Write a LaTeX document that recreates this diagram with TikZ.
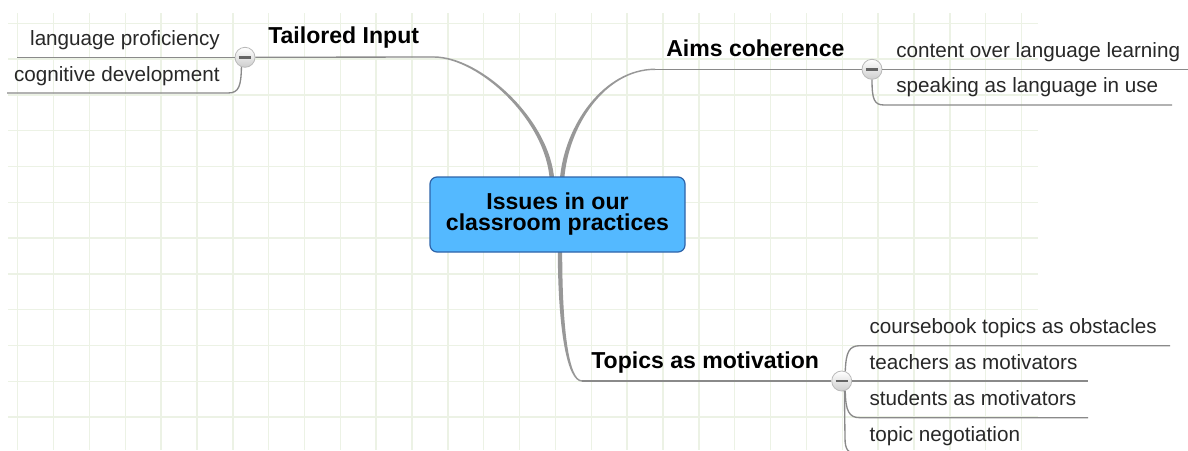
\documentclass[tikz,border=0pt]{standalone}
\usepackage{fontspec}
\setmainfont{Liberation Sans}
\usetikzlibrary{calc}
\definecolor{gridcol}{RGB}{236,242,229}
\definecolor{subline}{RGB}{138,138,138}
\definecolor{conncol}{RGB}{152,152,152}
\definecolor{boxfill}{RGB}{84,185,255}
\definecolor{boxdraw}{RGB}{46,100,170}
\definecolor{btnborder}{RGB}{185,185,185}
\definecolor{btnbot}{RGB}{205,205,205}
\definecolor{minuscol}{RGB}{100,100,100}
\definecolor{subtext}{RGB}{40,40,40}
\newcommand\subfont{\fontsize{15.5}{18}\selectfont}
\newcommand\brfont{\fontsize{17.3}{20}\selectfont\bfseries}
\tikzset{
  gridline/.style={draw=gridcol, line width=1.1pt},
  subl/.style={draw=subline, line width=1pt},
  conn/.style={fill=conncol},
  subitem/.style={inner sep=0pt, font=\subfont, text=subtext},
  branch/.style={inner sep=0pt, font=\brfont, text=black},
  centerbox/.style={rectangle, rounded corners=5.25pt, fill=boxfill, draw=boxdraw, line width=0.9pt,
    minimum width=191.25pt, minimum height=56.25pt, align=center, inner sep=0pt,
    font=\fontsize{17.3}{15.75}\selectfont\bfseries},
  btn/.style={circle, minimum size=15pt, inner sep=0pt, draw=btnborder, line width=0.6pt,
    top color=white, bottom color=btnbot,
    path picture={\draw[line width=1.8pt, minuscol]
      ([xshift=-4.6pt]path picture bounding box.center) -- ([xshift=4.6pt]path picture bounding box.center);}}
}
\begin{document}
\begin{tikzpicture}[x=0.75pt,y=-0.75pt]
\useasboundingbox (0,0) rectangle (1188,450);
\clip (0,0) rectangle (1188,450);
\fill[white] (0,0) rectangle (1188,450);
% grid
\foreach \i in {0,...,28} \draw[gridline] ({17.7+35.85*\i},13) -- ({17.7+35.85*\i},450);
\foreach \j in {0,...,11} \draw[gridline] (8,{23.3+35.8*\j}) -- (1038,{23.3+35.8*\j});

% named coordinates
\coordinate (tiEnd) at (434,57);
\coordinate (acEnd) at (655,69.3);
\coordinate (tmEnd) at (582,381);

% buttons
\node[btn] (lb) at (245,57.3) {};
\node[btn] (rb) at (872,69.3) {};
\node[btn] (bb) at (841.7,381) {};

% main tapered connectors
\fill[conn] (554.3,180) .. controls (550,119.5) and (480.5,56.3) .. ($(tiEnd)+(0,-0.7)$)
  -- ($(tiEnd)+(0,0.7)$) .. controls (479.5,58.3) and (546,120.5) .. (549.7,180) -- cycle;
\fill[conn] (559.8,180) .. controls (564,124.5) and (604.5,68.6) .. ($(acEnd)+(0,-0.7)$)
  -- ($(acEnd)+(0,0.7)$) .. controls (605.5,70) and (568,125.5) .. (564.2,180) -- cycle;
\fill[conn] (557.8,250) .. controls (557.9,330) and (567,381.7) .. ($(tmEnd)+(0,0.7)$)
  -- ($(tmEnd)+(0,-0.7)$) .. controls (569,380.3) and (562.1,330) .. (562.2,250) -- cycle;

% branch lines to buttons
\draw[subl] (tiEnd) -- (lb.east);
\draw[subl] (acEnd) -- (rb.west);
\draw[subl] (tmEnd) -- (bb.west);

% left sub-branches
\coordinate (lpEnd) at (17,57.3);
\coordinate (cdEnd) at (7,93);
\draw[subl] (lb.west) -- (lpEnd);
\draw[subl] (lb.250) .. controls (241,86) and (239,93) .. (228,93) -- (cdEnd);

% right sub-branches
\coordinate (coEnd) at (1190,69.3);
\coordinate (spEnd) at (1172,105);
\draw[subl] (rb.east) -- (coEnd);
\draw[subl] (rb.south) .. controls (872,99) and (874,105) .. (884,105) -- (spEnd);

% bottom sub-branches
\coordinate (cbEnd) at (1170,345.7);
\coordinate (teEnd) at (1088,381);
\coordinate (stEnd) at (1088,417.7);
\coordinate (tnEnd) at (1100,454);
\draw[subl] (bb.east) -- (teEnd);
\draw[subl] (bb.70) .. controls (846,352) and (849,345.7) .. (860,345.7) -- (cbEnd);
\draw[subl] (bb.290) .. controls (845.5,411) and (849,417.7) .. (860,417.7) -- (stEnd);
\draw[subl] (bb.285) -- (845,438) .. controls (845,450) and (848,454) .. (860,454) -- (tnEnd);

% center node
\node[centerbox] (center) at (557.5,214.5) {Issues in our\\classroom practices};

% branch labels
\node[branch, anchor=base west] (ti) at (268,43.3) {Tailored Input};
\node[branch, anchor=base west] (ac) at (666,56.7) {Aims coherence};
\node[branch, anchor=base west] (tm) at (591,368) {Topics as motivation};

% sub items
\node[subitem, anchor=base east] (lp) at (220,45) {language proficiency};
\node[subitem, anchor=base east] (cd) at (220,81.5) {cognitive development};
\node[subitem, anchor=base west] (co) at (896,57) {content over language learning};
\node[subitem, anchor=base west] (sp) at (896,92.5) {speaking as language in use};
\node[subitem, anchor=base west] (cb) at (869.3,333.3) {coursebook topics as obstacles};
\node[subitem, anchor=base west] (te) at (869.3,369) {teachers as motivators};
\node[subitem, anchor=base west] (st) at (869.3,405.2) {students as motivators};
\node[subitem, anchor=base west] (tn) at (869.3,441.5) {topic negotiation};
\end{tikzpicture}
\end{document}
